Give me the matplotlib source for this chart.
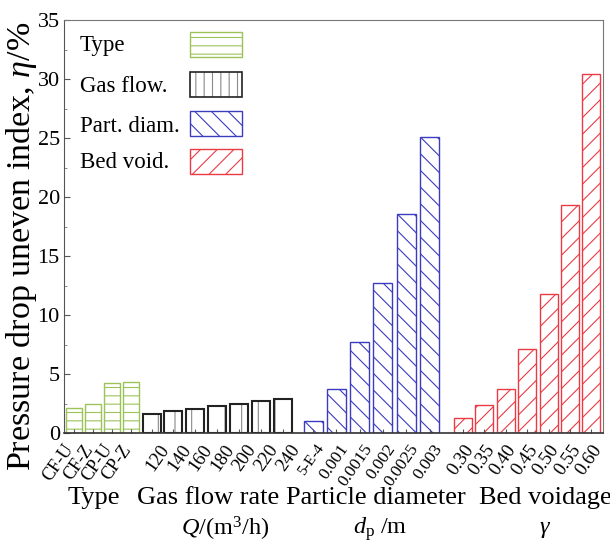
import matplotlib
matplotlib.use('Agg')
import matplotlib.pyplot as plt
from matplotlib.patches import Rectangle
from matplotlib.ticker import MultipleLocator
from matplotlib.transforms import ScaledTranslation

plt.rcParams.update({
    'font.family': ['Liberation Serif', 'DejaVu Serif'],
    'mathtext.fontset': 'custom',
    'mathtext.rm': 'Liberation Serif',
    'mathtext.it': 'Liberation Serif:italic',
    'mathtext.bf': 'Liberation Serif:bold',
    'hatch.linewidth': 0.8,
})

# ---------------- data ----------------
type_labels = ['CF-U', 'CF-Z', 'CP-U', 'CP-Z']
type_vals = [2.1, 2.5, 4.25, 4.35]

gas_labels = ['120', '140', '160', '180', '200', '220', '240']
gas_vals = [1.6, 1.85, 2.05, 2.3, 2.5, 2.75, 2.9]

part_labels = ['5-E-4', '0.001', '0.0015', '0.002', '0.0025', '0.003']
part_vals = [1.05, 3.7, 7.7, 12.7, 18.55, 25.1]

bed_labels = ['0.30', '0.35', '0.40', '0.45', '0.50', '0.55', '0.60']
bed_vals = [1.3, 2.35, 3.7, 7.1, 11.8, 19.3, 30.4]

legend_names = ['Type', 'Gas flow.', 'Part. diam.', 'Bed void.']
group_titles = ['Type', 'Gas flow rate', 'Particle diameter', 'Bed voidage']
group_units = ['', r'$Q$/(m$^3$/h)', r'$d_{\rm p}$ /m', r'$\gamma$']

# ---------------- style / layout ----------------
GREEN = '#9CC35A'
BLUE = '#3C3CC0'
RED = '#EC3A44'
DARK = '#222222'
GRAY_H = '#8A8A8A'

W, H = 610, 547
AX_L, AX_R, AX_T, AX_B = 64, 603, 20, 433

# (first centre, step, bar width) in axis pixel units
layout = [(9.5, 19.2, 16), (87.5, 21.9, 18), (249.0, 23.3, 19), (399.0, 21.4, 18)]
label_dx = [-10, 7, 3, 0]       # px shift of tick labels per group
label_fs = [13, 13.5, 12.5, 13.5]

fig = plt.figure(figsize=(W / 100, H / 100), dpi=100)
ax = fig.add_axes([AX_L / W, 1 - AX_B / H, (AX_R - AX_L) / W, (AX_B - AX_T) / H])
ax.set_xlim(0, AX_R - AX_L)
ax.set_ylim(0, 35)

groups = [(type_labels, type_vals), (gas_labels, gas_vals),
          (part_labels, part_vals), (bed_labels, bed_vals)]

all_x, all_lab, all_grp = [], [], []
for gi, ((labs, vals), (x0, step, bw)) in enumerate(zip(groups, layout)):
    xs = [x0 + step * i for i in range(len(vals))]
    if gi == 0:
        ax.bar(xs, vals, bw, facecolor='white', edgecolor=GREEN, hatch='--', lw=1.0)
    elif gi == 1:
        ax.bar(xs, vals, bw, facecolor='white', edgecolor=GRAY_H, hatch='|', lw=0)
        ax.bar(xs, vals, bw, fill=False, edgecolor=DARK, lw=1.5)
    elif gi == 2:
        ax.bar(xs, vals, bw, facecolor='white', edgecolor=BLUE, hatch='\\\\', lw=1.0)
    else:
        ax.bar(xs, vals, bw, facecolor='white', edgecolor=RED, hatch='//', lw=1.0)
    all_x += xs
    all_lab += labs
    all_grp += [gi] * len(labs)

ax.set_xticks(all_x, all_lab)
ax.tick_params(axis='x', direction='in', length=3, pad=6, color='#555555')
for t, g, lab in zip(ax.get_xticklabels(), all_grp, all_lab):
    fs = label_fs[g] if lab != '5-E-4' else 11
    t.set_fontsize(fs)
    t.set_rotation(55)
    t.set_ha('right')
    t.set_va('top')
    t.set_rotation_mode('anchor')
    t.set_transform(t.get_transform() + ScaledTranslation(label_dx[g] / 100, 0, fig.dpi_scale_trans))

ax.set_yticks(range(0, 36, 5))
ax.yaxis.set_minor_locator(MultipleLocator(2.5))
ax.tick_params(axis='y', which='major', direction='in', length=4, pad=3, labelsize=16, color='#555555')
ax.tick_params(axis='y', which='minor', direction='in', length=2, color='#777777')

ax.spines['left'].set_color('#555555')
ax.spines['top'].set_color('#777777')
ax.spines['right'].set_color('#777777')
ax.spines['bottom'].set_color('#333333')
ax.spines['bottom'].set_linewidth(1.2)

# ---------------- legend (drawn in axes pixel frame) ----------------
def axp(x, y):
    return ((x - AX_L) / (AX_R - AX_L), (AX_B - y) / (AX_B - AX_T))

leg_text_y = [45, 87, 127, 163]
leg_box_y = [44.5, 84.5, 123.5, 161.5]
leg_styles = [(GREEN, '--'), (GRAY_H, '||'), (BLUE, '\\\\'), (RED, '//')]
for name, ty, by, (col, hat) in zip(legend_names, leg_text_y, leg_box_y, leg_styles):
    ax.text(*axp(80, ty), name, transform=ax.transAxes, fontsize=16.5, ha='left', va='center')
    x0, y0 = axp(190, by + 12.5)
    x1, y1 = axp(242, by - 12.5)
    if col == GRAY_H:
        ax.add_patch(Rectangle((x0, y0), x1 - x0, y1 - y0, transform=ax.transAxes,
                               facecolor='white', edgecolor=GRAY_H, hatch=hat, lw=0))
        ax.add_patch(Rectangle((x0, y0), x1 - x0, y1 - y0, transform=ax.transAxes,
                               fill=False, edgecolor=DARK, lw=1.2))
    else:
        ax.add_patch(Rectangle((x0, y0), x1 - x0, y1 - y0, transform=ax.transAxes,
                               facecolor='white', edgecolor=col, hatch=hat, lw=1.0))

# ---------------- axis texts ----------------
fig.text(22 / W, 1 - 246.5 / H, r'Pressure drop uneven index, $\eta$/%',
         rotation=90, ha='center', va='center', fontsize=24.5)

title_x = [94, 208, 376, 545]
unit_x = [94, 225, 380, 545]
for t, u, tx, ux in zip(group_titles, group_units, title_x, unit_x):
    fig.text(tx / W, 1 - 498 / H, t, ha='center', va='center', fontsize=19)
    if u:
        fig.text(ux / W, 1 - 529 / H, u, ha='center', va='center', fontsize=17.5)

fig.savefig('out.png', dpi=100)
